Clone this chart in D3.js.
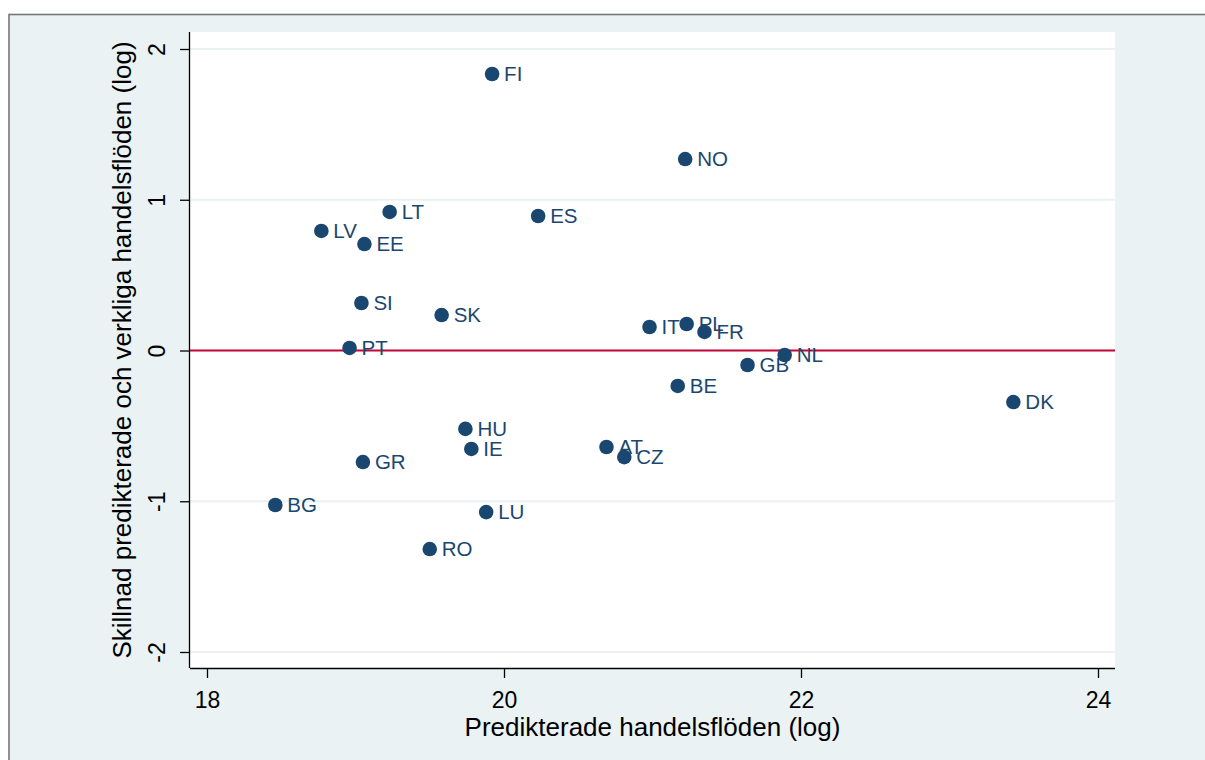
<!DOCTYPE html>
<html><head><meta charset="utf-8">
<script src="https://cdn.jsdelivr.net/npm/d3@7"></script>
<style>html,body{margin:0;padding:0;background:#fff;overflow:hidden}svg{display:block}</style>
</head><body>
<svg id="c" width="1205" height="760"></svg>
<script>
const countries = ["FI","NO","LT","ES","LV","EE","SI","SK","PT","IT","PL","FR","NL","GB","BE","DK","HU","IE","AT","CZ","GR","BG","LU","RO"];
const predicted = [19.92,21.22,19.23,20.23,18.77,19.06,19.04,19.58,18.96,20.98,21.23,21.35,21.89,21.64,21.17,23.43,19.74,19.78,20.69,20.81,19.05,18.46,19.88,19.50];
const residual = [1.834,1.27,0.919,0.892,0.793,0.706,0.315,0.235,0.017,0.156,0.176,0.123,-0.03,-0.096,-0.235,-0.342,-0.52,-0.653,-0.64,-0.707,-0.74,-1.025,-1.072,-1.317];
const xTicks = [18,20,22,24];
const yTicks = [-2,-1,0,1,2];
const xTitle = "Predikterade handelsflöden (log)";
const yTitle = "Skillnad predikterade och verkliga handelsflöden (log)";

const svg = d3.select("#c");
const font = "'Liberation Sans', Arial, sans-serif";
const blue = "#1a476f";

// outer background
svg.append("rect").attr("x",9).attr("y",14.5).attr("width",1300).attr("height",800)
  .attr("fill","#eaf2f3").attr("stroke","#777").attr("stroke-width",1.6);

const plot = {l:190, t:32, r:1115, b:668};
svg.append("rect").attr("x",plot.l).attr("y",plot.t).attr("width",plot.r-plot.l).attr("height",plot.b-plot.t).attr("fill","#fff");

const x = d3.scaleLinear().domain([18,24]).range([207,1098]);
const y = d3.scaleLinear().domain([-2,2]).range([652,49]);

// gridlines
svg.append("g").selectAll("line").data(yTicks.filter(d=>d!==0)).join("line")
  .attr("x1",plot.l).attr("x2",plot.r).attr("y1",d=>y(d)).attr("y2",d=>y(d))
  .attr("stroke","#eaf2f3").attr("stroke-width",2);

// zero line
svg.append("line").attr("x1",plot.l).attr("x2",plot.r).attr("y1",y(0)).attr("y2",y(0))
  .attr("stroke","#c10534").attr("stroke-width",2);

const fmt = d => String(d);

// axes
const xAxis = d3.axisBottom(x).tickValues(xTicks).tickSize(10).tickPadding(8).tickFormat(fmt);
const gx = svg.append("g").attr("transform",`translate(0,${plot.b})`).call(xAxis);
gx.select(".domain").attr("d",`M${plot.l},0.5H${plot.r}`).attr("stroke","#000").attr("stroke-width",1.3);
gx.selectAll(".tick line").attr("stroke","#000").attr("stroke-width",1.3);
gx.selectAll(".tick text").style("font-family",font).style("font-size","23px").attr("fill","#000")
  .attr("y",40).attr("dy",0);

const yAxis = d3.axisLeft(y).tickValues(yTicks).tickSize(10).tickPadding(8).tickFormat(fmt);
const gy = svg.append("g").attr("transform",`translate(${plot.l},0)`).call(yAxis);
gy.select(".domain").attr("d",`M-0.5,${plot.t}V${plot.b}`).attr("stroke","#000").attr("stroke-width",1.3);
gy.selectAll(".tick line").attr("stroke","#000").attr("stroke-width",1.3);
gy.selectAll(".tick text").style("font-family",font).style("font-size","23px").attr("fill","#000")
  .attr("x",0).attr("y",-25).attr("dy",0).attr("text-anchor","middle")
  .attr("transform","rotate(-90)");

// points
const data = countries.map((c,i)=>({c, x:predicted[i], y:residual[i]}));
svg.append("g").selectAll("circle").data(data).join("circle")
  .attr("cx",d=>x(d.x)).attr("cy",d=>y(d.y)).attr("r",7.3).attr("fill",blue);
svg.append("g").selectAll("text").data(data).join("text")
  .attr("x",d=>x(d.x)+12).attr("y",d=>y(d.y)+7).text(d=>d.c)
  .style("font-family",font).style("font-size","20.5px").attr("fill",blue);

// titles
svg.append("text").attr("x",(plot.l+plot.r)/2).attr("y",736).attr("text-anchor","middle")
  .style("font-family",font).style("font-size","26px").text(xTitle);
svg.append("text").attr("transform",`translate(131,${(plot.t+plot.b)/2}) rotate(-90)`).attr("text-anchor","middle")
  .style("font-family",font).style("font-size","26px").text(yTitle);
</script>
</body></html>
